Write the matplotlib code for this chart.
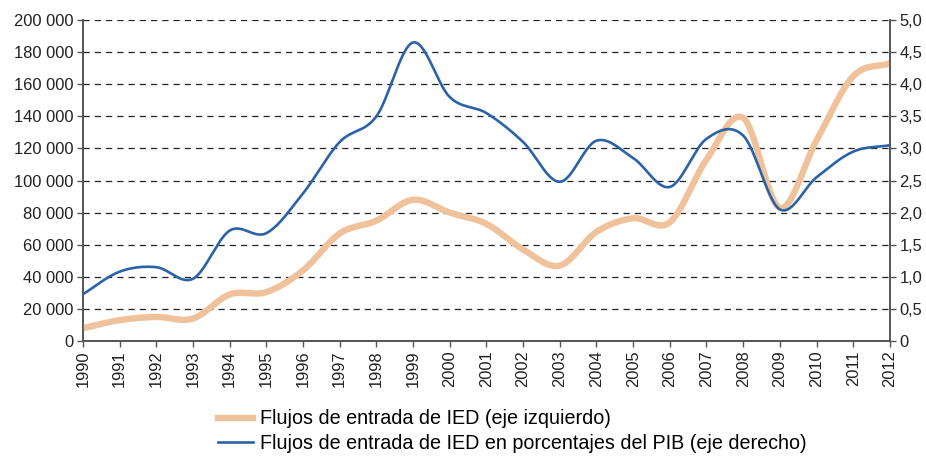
import numpy as np
import matplotlib.pyplot as plt
from matplotlib.lines import Line2D
from matplotlib.ticker import FuncFormatter

plt.rcParams['font.family'] = ['Liberation Sans', 'DejaVu Sans']

years = list(range(1990, 2013))
ied_flows = [8000, 13000, 15000, 14000, 29000, 30500, 44000, 67000, 75000, 88000,
             80000, 73000, 57000, 47000, 68000, 76500, 74000, 113000, 139000, 83000,
             125000, 165000, 173000]
ied_pct_gdp = [0.73, 1.08, 1.15, 0.97, 1.72, 1.68, 2.3, 3.1, 3.5, 4.65,
               3.8, 3.55, 3.1, 2.48, 3.12, 2.85, 2.4, 3.15, 3.2, 2.05,
               2.55, 2.95, 3.05]

ORANGE = '#F0C29B'
BLUE = '#2B62A8'


def smooth(x, y, n=30):
    # catmull-rom curve through the points, like a spreadsheet "smoothed line"
    x = np.asarray(x, float)
    y = np.asarray(y, float)
    px = np.concatenate([[2 * x[0] - x[1]], x, [2 * x[-1] - x[-2]]])
    py = np.concatenate([[2 * y[0] - y[1]], y, [2 * y[-1] - y[-2]]])
    xs, ys = [], []
    t = np.linspace(0, 1, n, endpoint=False)
    for i in range(1, len(px) - 2):
        for arr, out in ((px, xs), (py, ys)):
            p0, p1, p2, p3 = arr[i - 1], arr[i], arr[i + 1], arr[i + 2]
            out.extend(0.5 * ((2 * p1) + (-p0 + p2) * t
                              + (2 * p0 - 5 * p1 + 4 * p2 - p3) * t ** 2
                              + (-p0 + 3 * p1 - 3 * p2 + p3) * t ** 3))
    xs.append(x[-1])
    ys.append(y[-1])
    return np.array(xs), np.array(ys)


fig = plt.figure(figsize=(9.26, 4.57), dpi=100)
ax = fig.add_axes([0.0896, 0.2538, 0.8714, 0.7024])
ax2 = ax.twinx()

sx, sy = smooth(years, ied_flows)
ax.plot(sx, sy, color=ORANGE, lw=4.6, solid_capstyle='butt', zorder=3)
bx, by = smooth(years, ied_pct_gdp)
ax2.plot(bx, by, color=BLUE, lw=1.9, zorder=4)

ax.set_xlim(1990, 2012)
ax.set_ylim(0, 200000)
ax2.set_ylim(0, 5.0)
ax.set_yticks(range(0, 200001, 20000))
ax2.set_yticks(np.arange(0, 5.01, 0.5))
ax.yaxis.set_major_formatter(FuncFormatter(lambda v, p: f"{int(v):,}".replace(',', ' ')))
ax2.yaxis.set_major_formatter(FuncFormatter(
    lambda v, p: '0' if v == 0 else f"{v:.1f}".replace('.', ',')))
ax.set_xticks(years)
ax.set_xticklabels([str(y) for y in years], rotation=90)

ax.grid(axis='y', color='#222222', ls=(0, (5, 4)), lw=0.9)
ax.set_axisbelow(True)

for a in (ax, ax2):
    a.spines['top'].set_visible(False)
    for s in ('left', 'right', 'bottom'):
        a.spines[s].set_color('#555555')
        a.spines[s].set_linewidth(1.2)
    a.tick_params(labelsize=11.9, colors='#555555', labelcolor='#222222',
                  length=4, width=1.0, pad=3)

handles = [Line2D([], [], color=ORANGE, lw=4.6),
           Line2D([], [], color=BLUE, lw=1.9)]
labels = ['Flujos de entrada de IED (eje izquierdo)',
          'Flujos de entrada de IED en porcentajes del PIB (eje derecho)']
fig.legend(handles, labels, loc='upper left', bbox_to_anchor=(0.235, 0.104),
           frameon=False, fontsize=14.2, handlelength=1.8, handletextpad=0.35,
           labelspacing=0.28, borderaxespad=0, borderpad=0)

fig.savefig('out.png', dpi=100)
